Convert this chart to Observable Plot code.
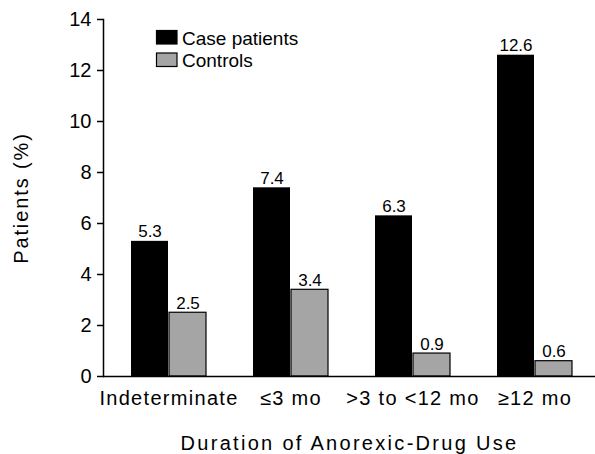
<!DOCTYPE html>
<html>
<head>
<meta charset="utf-8">
<script src="https://cdn.jsdelivr.net/npm/d3@7"></script>
<script src="https://cdn.jsdelivr.net/npm/@observablehq/plot@0.6"></script>
<style>
  html, body { margin: 0; padding: 0; background: #fff; }
  #chart svg { display: block; }
</style>
</head>
<body>
<div id="chart"></div>
<script>
const categories = ["Indeterminate", "≤3 mo", ">3 to <12 mo", "≥12 mo"];
const casePatients = [5.3, 7.4, 6.3, 12.6];
const controls = [2.5, 3.4, 0.9, 0.6];
const yTicks = [0, 2, 4, 6, 8, 10, 12, 14];
const seriesNames = ["Case patients", "Controls"];
const seriesColors = ["#000000", "#a5a5a5"];

const rows = categories.map((c, i) => ({category: c, casePatients: casePatients[i], controls: controls[i]}));

const half = 38;

const chart = Plot.plot({
  width: 595,
  height: 454,
  marginLeft: 103,
  marginRight: 0,
  marginTop: 19,
  marginBottom: 78,
  style: {fontFamily: "'Liberation Sans', Arial, sans-serif", fontSize: "20px", color: "#000", background: "#fff"},
  x: {domain: categories, range: [103, 600], paddingInner: 0.382, paddingOuter: 0.2114},
  y: {domain: [0, 14]},
  marks: [
    Plot.barY(rows, {x: "category", y: "casePatients", fill: seriesColors[0], insetRight: half}),
    Plot.barY(rows, {x: "category", y: "controls", fill: seriesColors[1], stroke: "#000", strokeWidth: 1.2, insetLeft: half}),
    Plot.text(rows, {x: "category", y: "casePatients", text: d => d.casePatients.toFixed(1), dx: -19, dy: -4, lineAnchor: "bottom", fontSize: 17, fill: "#000"}),
    Plot.text(rows, {x: "category", y: "controls", text: d => d.controls.toFixed(1), dx: 19, dy: -4, lineAnchor: "bottom", fontSize: 17, fill: "#000"}),
    Plot.axisY({ticks: yTicks, tickSize: 6, tickPadding: 6, strokeWidth: 1.5, fontSize: 20, label: "Patients (%)", labelAnchor: "center", labelArrow: "none", labelOffset: 90}),
    Plot.axisX({tickSize: 0, tickPadding: 14, fontSize: 20, label: "Duration of Anorexic-Drug Use", labelAnchor: "center", labelOffset: 73}),
    Plot.frame({anchor: "left", strokeWidth: 1.5}),
    Plot.ruleY([0], {strokeWidth: 1.5})
  ]
});

const svg = d3.select(chart);
svg.selectAll('[aria-label="x-axis tick label"] text').attr("letter-spacing", "1.3px");
svg.selectAll('[aria-label="x-axis label"] text, [aria-label="x-axis label"]').attr("letter-spacing", "2.3px");
svg.selectAll('[aria-label="y-axis label"] text, [aria-label="y-axis label"]').attr("letter-spacing", "1.9px");

// legend (inside plot area, top-left)
const legend = svg.append("g").attr("font-size", 19).attr("text-anchor", "start");
seriesNames.forEach((name, i) => {
  const y0 = 30.5 + i * 22.5;
  legend.append("rect")
    .attr("x", 156.5).attr("y", y0).attr("width", 20.5).attr("height", 13.5)
    .attr("fill", seriesColors[i]).attr("stroke", "#000").attr("stroke-width", 1.2);
  legend.append("text")
    .attr("x", 182).attr("y", y0 + 14)
    .attr("fill", "#000")
    .attr("text-anchor", "start")
    .text(name);
});

document.getElementById("chart").appendChild(chart);
</script>
</body>
</html>
